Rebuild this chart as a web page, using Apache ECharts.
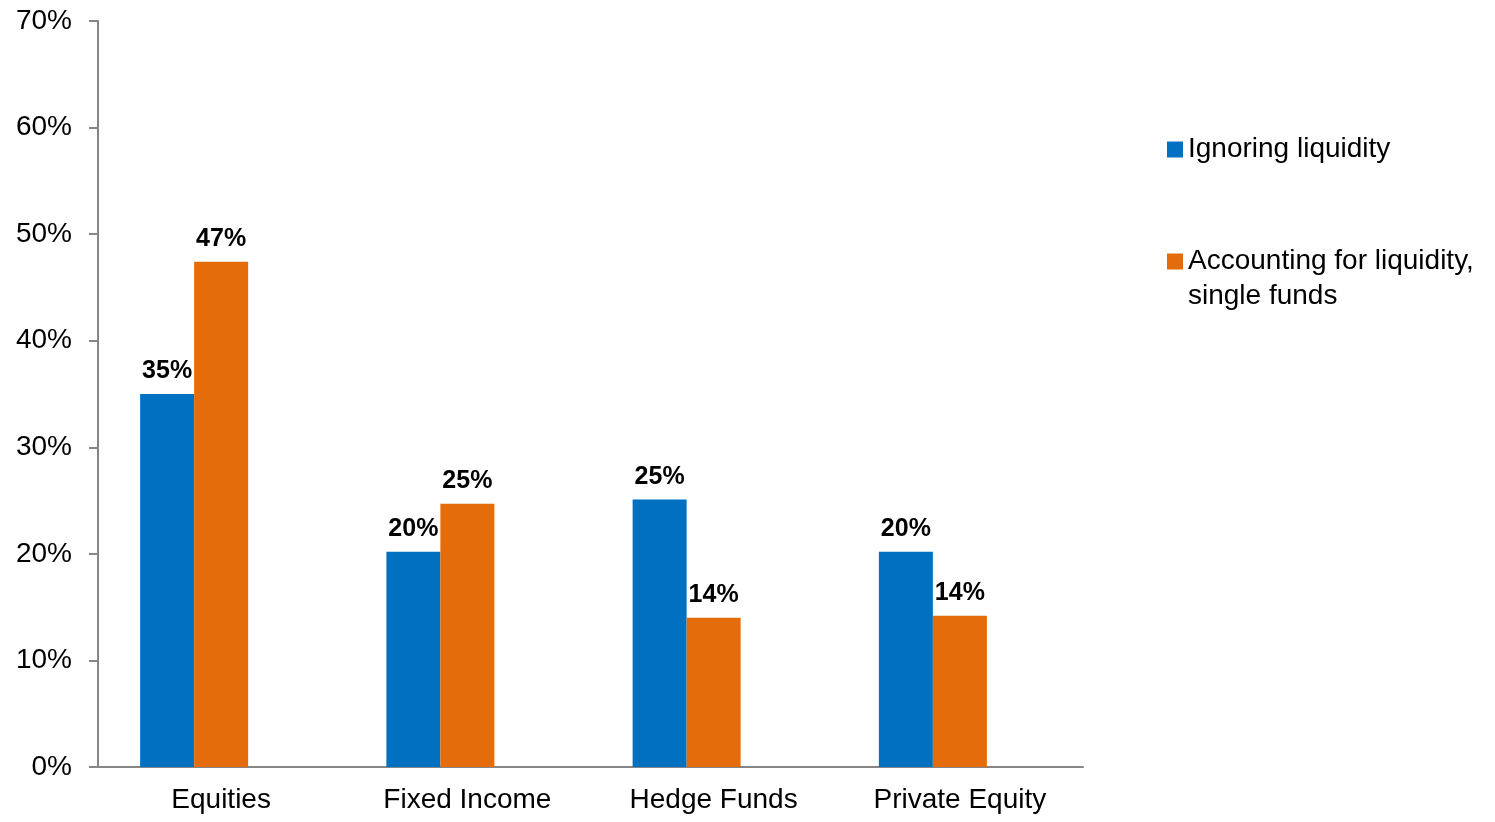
<!DOCTYPE html>
<html>
<head>
<meta charset="utf-8">
<title>Allocation</title>
<script src="https://cdn.jsdelivr.net/npm/echarts@6/dist/echarts.min.js"></script>
<style>
  html, body { margin: 0; padding: 0; background: #fff; }
  #chart { width: 1495px; height: 822px; }
</style>
</head>
<body>
<div id="chart"></div>
<script>
// categories and values (percent)
const categories = ['Equities', 'Fixed Income', 'Hedge Funds', 'Private Equity'];
const ignoringLiquidity = [35.0, 20.2, 25.1, 20.2];
const accountingLiquidity = [47.4, 24.7, 14.0, 14.2];
const seriesNames = ['Ignoring liquidity', 'Accounting for liquidity, single funds'];
const yTicks = [0, 10, 20, 30, 40, 50, 60, 70];

const FONT = '"Liberation Sans", Arial, sans-serif';
const myChart = echarts.init(document.getElementById('chart'));

const labelStyle = {
  show: true,
  position: 'top',
  distance: 10,
  formatter: p => Math.round(p.value) + '%',
  fontFamily: FONT,
  fontSize: 25,
  fontWeight: 'bold',
  color: '#000'
};

const legendText = {
  fontFamily: FONT,
  fontSize: 28,
  color: '#000',
  lineHeight: 35
};

const options = {
  animation: false,
  grid: { left: 98, right: 412, top: 21, bottom: 55 },
  legend: [
    {
      data: [seriesNames[0]],
      orient: 'vertical',
      left: 1167,
      top: 132,
      padding: 0,
      itemWidth: 16,
      itemHeight: 16,
      icon: 'rect',
      textStyle: legendText
    },
    {
      data: [seriesNames[1]],
      orient: 'vertical',
      left: 1167,
      top: 209,
      padding: 0,
      itemWidth: 16,
      itemHeight: 16,
      icon: 'rect',
      // blank first line keeps the first text line level with the marker
      formatter: name => '\n' + name.replace(', ', ',\n'),
      textStyle: legendText
    }
  ],
  xAxis: {
    type: 'category',
    data: categories,
    axisLine: { lineStyle: { color: '#868686', width: 2 } },
    axisTick: { show: false },
    axisLabel: { fontFamily: FONT, fontSize: 28, color: '#000', margin: 19 }
  },
  yAxis: {
    type: 'value',
    min: yTicks[0],
    max: yTicks[yTicks.length - 1],
    interval: 10,
    splitLine: { show: false },
    axisLine: { show: true, lineStyle: { color: '#868686', width: 2 } },
    axisTick: { show: true, length: 9, lineStyle: { color: '#868686', width: 2 } },
    axisLabel: { fontFamily: FONT, fontSize: 28, color: '#000', margin: 26, formatter: '{value}%' }
  },
  series: [
    {
      name: seriesNames[0],
      type: 'bar',
      data: ignoringLiquidity,
      barWidth: 54,
      barGap: '0%',
      itemStyle: { color: '#0070C0' },
      label: labelStyle
    },
    {
      name: seriesNames[1],
      type: 'bar',
      data: accountingLiquidity,
      barWidth: 54,
      barGap: '0%',
      itemStyle: { color: '#E46C0A' },
      label: labelStyle
    },
    {
      // empty third slot, as in the original layout
      name: 'spacer',
      type: 'bar',
      data: categories.map(() => null),
      barWidth: 54,
      barGap: '0%',
      silent: true
    }
  ]
};

myChart.setOption(options);
</script>
</body>
</html>
